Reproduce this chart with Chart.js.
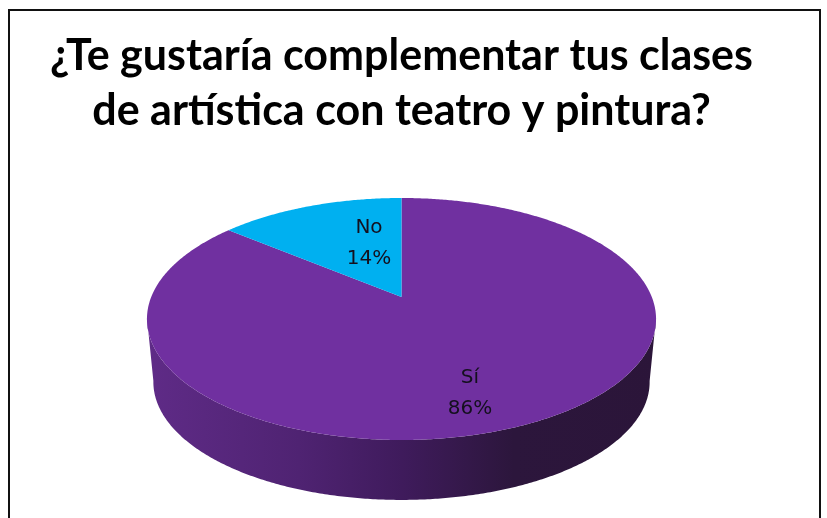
<!DOCTYPE html>
<html>
<head>
<meta charset="utf-8">
<title>Clases de artística</title>
<script src="https://cdn.jsdelivr.net/npm/chart.js@4/dist/chart.umd.min.js"></script>
<style>
    html, body { margin: 0; padding: 0; background: #fff; overflow: hidden; }
    #chart { position: absolute; left: 0; top: 0; }
    #frame { position: absolute; left: 8px; top: 9px; width: 809px; height: 600px; border: 2px solid #111; }
</style>
</head>
<body>
<canvas id="chart" width="827" height="518"></canvas>
<div id="frame"></div>
<script>
// Chart values
const categories = ['Sí', 'No'];
const percentages = [86, 14];
const sliceColors = ['#7030A0', '#00B0F0'];
const titleLines = ['¿Te gustaría complementar tus clases', 'de artística con teatro y pintura?'];

// Tilted disc seen in perspective, so the pie centre sits above the middle of the ellipse
const tilt = { rx: 250.3, ry: 117, p: -0.1818 };
const base = { rx: 244, ry: 114, drop: 63.6 };
// Label offsets from the pie centre, same order as categories
const labelOffsets = [[68.5, 80.5], [-32.5, -69.5]];
const labelLineGap = 31;

function rim(cx, cy, rx, ry, angle) {
    const u = Math.cos(angle), v = Math.sin(angle);
    const d = 1 + tilt.p * v;
    return [cx + rx * u / d, cy + ry * v / d];
}

// Front wall + top face, drawn from the angles Chart.js worked out for the slice
Chart.ArcElement.prototype.draw = function (ctx) {
    const { x, y, startAngle, endAngle, options } = this;
    const step = Math.PI / 360;

    const wallFrom = Math.max(startAngle, 10 * Math.PI / 180);
    const wallTo = Math.min(endAngle, 170 * Math.PI / 180);
    if (wallTo > wallFrom) {
        const grad = ctx.createLinearGradient(x - 255, 0, x + 255, 0);
        grad.addColorStop(0, '#5f2b87');
        grad.addColorStop(0.3, '#4f2372');
        grad.addColorStop(0.5, '#3f1b5c');
        grad.addColorStop(0.72, '#2c163c');
        grad.addColorStop(1, '#2b1539');
        ctx.beginPath();
        for (let a = wallFrom; a <= wallTo; a += step) {
            const p = rim(x, y, tilt.rx, tilt.ry, a);
            ctx.lineTo(p[0], p[1]);
        }
        for (let a = wallTo; a >= wallFrom; a -= step) {
            const p = rim(x, y + base.drop, base.rx, base.ry, a);
            ctx.lineTo(p[0], p[1]);
        }
        ctx.closePath();
        ctx.fillStyle = grad;
        ctx.fill();
    }

    ctx.beginPath();
    ctx.moveTo(x, y);
    for (let a = startAngle; a < endAngle; a += step) {
        const p = rim(x, y, tilt.rx, tilt.ry, a);
        ctx.lineTo(p[0], p[1]);
    }
    const last = rim(x, y, tilt.rx, tilt.ry, endAngle);
    ctx.lineTo(last[0], last[1]);
    ctx.closePath();
    ctx.fillStyle = options.backgroundColor;
    ctx.fill();
};

const sliceLabels = {
    id: 'sliceLabels',
    afterDatasetsDraw(chart) {
        const ctx = chart.ctx;
        const arcs = chart.getDatasetMeta(0).data;
        ctx.save();
        ctx.font = '20px "DejaVu Sans"';
        ctx.fillStyle = '#14101e';
        ctx.textAlign = 'center';
        ctx.textBaseline = 'middle';
        arcs.forEach((arc, i) => {
            const lx = arc.x + labelOffsets[i][0];
            const ly = arc.y + labelOffsets[i][1];
            ctx.fillText(categories[i], lx, ly);
            ctx.fillText(percentages[i] + '%', lx, ly + labelLineGap);
        });
        ctx.restore();
    }
};

new Chart(document.getElementById('chart'), {
    type: 'pie',
    data: {
        labels: categories,
        datasets: [{
            data: percentages,
            backgroundColor: sliceColors,
            borderWidth: 0
        }]
    },
    options: {
        responsive: false,
        animation: false,
        layout: { padding: { left: 0, right: 24, top: 0, bottom: 63 } },
        plugins: {
            legend: { display: false },
            tooltip: { enabled: false },
            title: {
                display: true,
                text: titleLines,
                color: '#000',
                font: { family: 'Lato', size: 43, weight: 'bold', lineHeight: 1.279 },
                padding: { top: 29, bottom: 0 }
            }
        }
    },
    plugins: [sliceLabels]
});
</script>
</body>
</html>
